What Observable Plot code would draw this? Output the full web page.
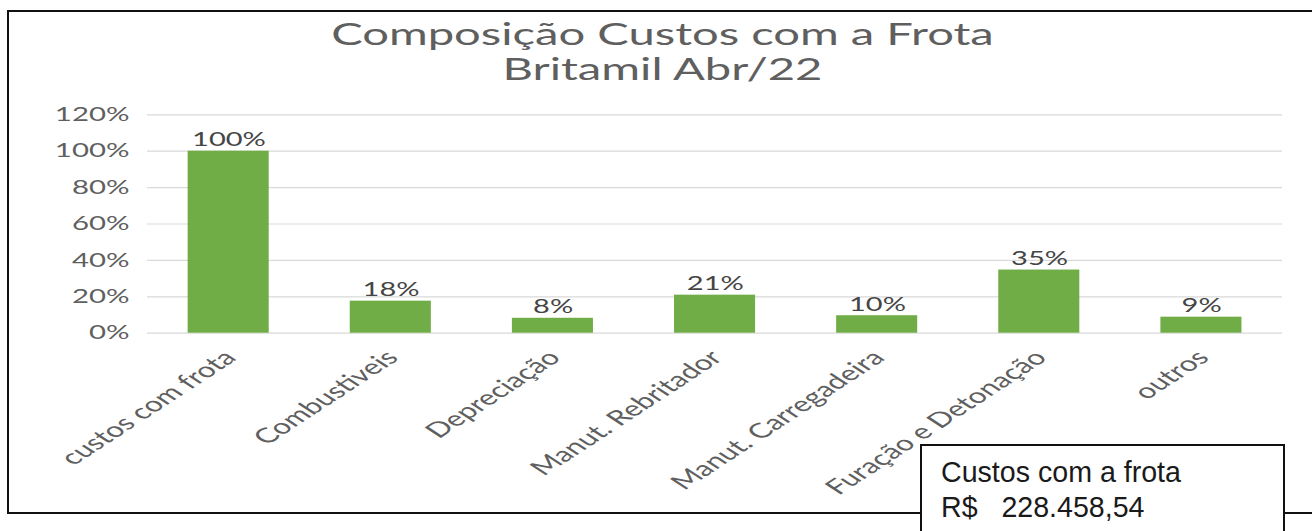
<!DOCTYPE html>
<html>
<head>
<meta charset="utf-8">
<script src="https://cdn.jsdelivr.net/npm/d3@7"></script>
<script src="https://cdn.jsdelivr.net/npm/@observablehq/plot@0.6"></script>
<style>
  html, body { margin: 0; padding: 0; background: #fff; }
  #page { position: relative; width: 1312px; height: 531px; overflow: hidden; background: #fff; }
  #frame { position: absolute; left: 7px; top: 10px; width: 1305px; height: 504px; box-sizing: border-box;
           border-left: 2px solid #111; border-top: 2px solid #111; border-bottom: 2px solid #111; }
  #stretch { position: absolute; left: 0; top: 0; width: 857px; height: 531px;
             transform: scaleX(1.5309); transform-origin: 0 0; }
  #title { position: absolute; left: 0; top: 16px; width: 857px; box-sizing: border-box; padding-left: 8.5px;
           text-align: center; font-family: Lato, sans-serif; font-size: 30.8px; line-height: 35px; color: #5f5f5f; }
  #plot { position: absolute; left: 0; top: 100px; }
  #note { position: absolute; left: 920px; top: 444px; width: 365px; height: 110px; box-sizing: border-box;
          border: 2px solid #111; background: #fff; padding: 9px 0 0 19px;
          font-family: "Liberation Sans", Arial, sans-serif; font-size: 28.6px; line-height: 35px; color: #1a1a1a;
          white-space: pre; }
</style>
</head>
<body>
<div id="page">
  <div id="frame"></div>
  <div id="stretch">
    <div id="title"></div>
    <div id="plot"></div>
  </div>
  <div id="note"></div>
</div>
<script>
const categories = ["custos com frota", "Combustiveis", "Depreciação", "Manut. Rebritador", "Manut. Carregadeira", "Furação e Detonação", "outros"];
const shares = [1.00, 0.176, 0.082, 0.209, 0.096, 0.347, 0.088];
const yTicks = [0, 0.2, 0.4, 0.6, 0.8, 1.0, 1.2];
const titleLines = ["Composição Custos com a Frota", "Britamil Abr/22"];
const noteLines = ["Custos com a frota", "R$   228.458,54"];

const data = categories.map((c, i) => ({cat: c, v: shares[i]}));
const fmt = d3.format(".0%");

document.getElementById("title").innerHTML = titleLines.join("<br>");
document.getElementById("note").textContent = noteLines.join("\n");

const chart = Plot.plot({
  width: 857,
  height: 431,
  marginTop: 14.3,
  marginBottom: 198.3,
  marginLeft: 96.1,
  marginRight: 19.6,
  style: {fontFamily: "Lato, sans-serif", fontSize: "18px", color: "#595959", background: "transparent", overflow: "visible"},
  x: {domain: categories, paddingInner: 0.5, paddingOuter: 0.25, round: false, axis: null},
  y: {domain: [0, 1.2], label: null},
  marks: [
    Plot.gridY(yTicks, {stroke: "#D9D9D9", strokeOpacity: 1, strokeWidth: 1.2}),
    Plot.axisY(yTicks, {tickSize: 0, tickPadding: 12, tickFormat: fmt, color: "#5f5f5f", fontSize: 19.2, label: null}),
    Plot.barY(data, {x: "cat", y: "v", fill: "#70AD47"}),
    Plot.text(data, {x: "cat", y: "v", text: d => fmt(d.v), dy: -5, lineAnchor: "bottom", fill: "#454545", fontSize: 19}),
    Plot.text(categories, {x: d => d, frameAnchor: "bottom", rotate: -45, textAnchor: "end", lineAnchor: "middle",
                           dx: 1, dy: 21, fill: "#5f5f5f", fontSize: 20.8})
  ]
});
document.getElementById("plot").appendChild(chart);
</script>
</body>
</html>
